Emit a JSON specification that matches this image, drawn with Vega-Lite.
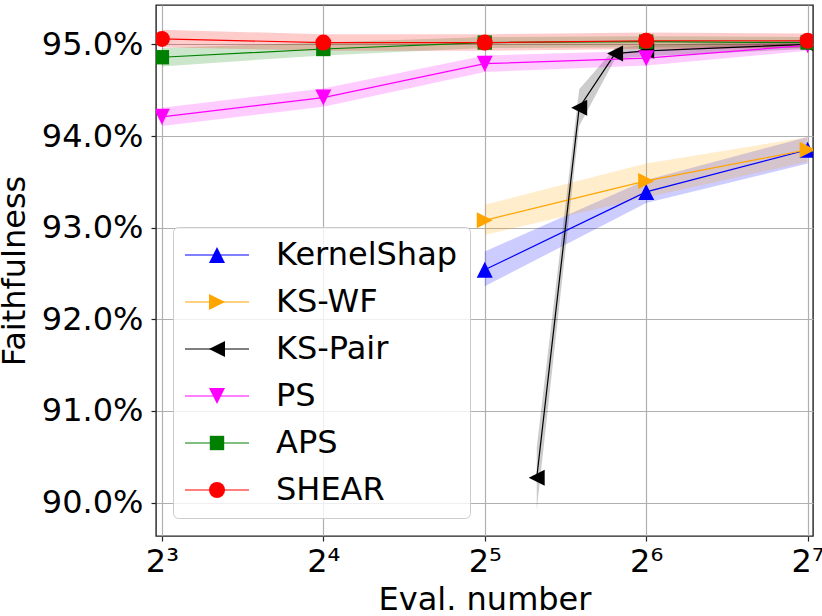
{
  "$schema": "https://vega.github.io/schema/vega-lite/v6.json",
  "width": 657,
  "height": 531,
  "autosize": {"type": "none"},
  "padding": {"left": 156, "top": 5, "right": 9, "bottom": 80},
  "data": {
    "values": [
      {"method": "KernelShap", "n": 32, "y": 92.54, "lo": 92.36, "hi": 92.74},
      {"method": "KernelShap", "n": 64, "y": 93.39, "lo": 93.27, "hi": 93.52},
      {"method": "KernelShap", "n": 128, "y": 93.85, "lo": 93.7, "hi": 93.99},
      {"method": "KS-WF", "n": 32, "y": 93.08, "lo": 92.92, "hi": 93.25},
      {"method": "KS-WF", "n": 64, "y": 93.51, "lo": 93.33, "hi": 93.7},
      {"method": "KS-WF", "n": 128, "y": 93.85, "lo": 93.72, "hi": 93.99},
      {"method": "KS-Pair", "n": 40, "y": 90.27, "lo": 89.92, "hi": 90.6},
      {"method": "KS-Pair", "n": 48, "y": 94.31, "lo": 94.11, "hi": 94.51},
      {"method": "KS-Pair", "n": 56, "y": 94.9, "lo": 94.84, "hi": 94.96},
      {"method": "KS-Pair", "n": 64, "y": 94.93, "lo": 94.87, "hi": 94.99},
      {"method": "KS-Pair", "n": 128, "y": 95.0, "lo": 94.95, "hi": 95.05},
      {"method": "PS", "n": 8, "y": 94.21, "lo": 94.11, "hi": 94.31},
      {"method": "PS", "n": 16, "y": 94.42, "lo": 94.32, "hi": 94.52},
      {"method": "PS", "n": 32, "y": 94.79, "lo": 94.7, "hi": 94.88},
      {"method": "PS", "n": 64, "y": 94.85, "lo": 94.77, "hi": 94.93},
      {"method": "PS", "n": 128, "y": 94.99, "lo": 94.93, "hi": 95.05},
      {"method": "APS", "n": 8, "y": 94.86, "lo": 94.76, "hi": 94.96},
      {"method": "APS", "n": 16, "y": 94.95, "lo": 94.88, "hi": 95.02},
      {"method": "APS", "n": 32, "y": 95.02, "lo": 94.96, "hi": 95.08},
      {"method": "APS", "n": 64, "y": 95.03, "lo": 94.97, "hi": 95.09},
      {"method": "APS", "n": 128, "y": 95.02, "lo": 94.96, "hi": 95.08},
      {"method": "SHEAR", "n": 8, "y": 95.06, "lo": 94.97, "hi": 95.16},
      {"method": "SHEAR", "n": 16, "y": 95.02, "lo": 94.93, "hi": 95.11},
      {"method": "SHEAR", "n": 32, "y": 95.02, "lo": 94.93, "hi": 95.11},
      {"method": "SHEAR", "n": 64, "y": 95.04, "lo": 94.95, "hi": 95.13},
      {"method": "SHEAR", "n": 128, "y": 95.04, "lo": 94.96, "hi": 95.12}
    ]
  },
  "encoding": {
    "x": {
      "field": "n",
      "type": "quantitative",
      "scale": {"type": "log", "base": 2, "domain": [7.8, 131], "nice": false},
      "axis": {
        "title": "Eval. number",
        "values": [8, 16, 32, 64, 128],
        "labelExpr": "datum.value == 8 ? '2³' : datum.value == 16 ? '2⁴' : datum.value == 32 ? '2⁵' : datum.value == 64 ? '2⁶' : '2⁷'",
        "labelPadding": 5,
        "titlePadding": 7
      }
    },
    "color": {
      "field": "method",
      "type": "nominal",
      "scale": {
        "domain": ["KernelShap", "KS-WF", "KS-Pair", "PS", "APS", "SHEAR"],
        "range": ["#0000ff", "#ffa500", "#000000", "#ff00ff", "#008000", "#ff0000"]
      },
      "legend": {
        "orient": "none",
        "legendX": 17,
        "legendY": 222,
        "title": null,
        "padding": 12,
        "symbolSize": 256,
        "symbolOffset": 16,
        "symbolOpacity": 1,
        "labelOffset": 43,
        "labelLimit": 400,
        "rowPadding": 15,
        "labelFont": "DejaVu Sans",
        "labelFontSize": 32,
        "labelColor": "#000000",
        "strokeColor": "#cccccc",
        "fillColor": "rgba(255,255,255,0.8)",
        "cornerRadius": 5,
        "zindex": 1
      }
    }
  },
  "layer": [
    {
      "mark": {"type": "area", "opacity": 0.2, "clip": true},
      "encoding": {
        "y": {
          "field": "lo",
          "type": "quantitative",
          "stack": null,
          "scale": {"domain": [89.635, 95.43], "nice": false, "zero": false},
          "axis": {
            "title": "Faithfulness",
            "values": [90, 91, 92, 93, 94, 95],
            "labelExpr": "format(datum.value, '.1f') + '%'",
            "labelPadding": 8,
            "titlePadding": 10
          }
        },
        "y2": {"field": "hi"}
      }
    },
    {
      "mark": {"type": "line", "strokeWidth": 1.2, "clip": true},
      "encoding": {
        "y": {
          "field": "y",
          "type": "quantitative",
          "scale": {"domain": [89.635, 95.43], "nice": false, "zero": false},
          "axis": {
            "title": "Faithfulness",
            "values": [90, 91, 92, 93, 94, 95],
            "labelExpr": "format(datum.value, '.1f') + '%'",
            "labelPadding": 8,
            "titlePadding": 10
          }
        },
        "stroke": {
          "field": "method",
          "type": "nominal",
          "sort": ["KernelShap", "KS-WF", "KS-Pair", "PS", "APS", "SHEAR"],
          "scale": {
            "range": ["#0000ff", "#ffa500", "#000000", "#ff00ff", "#008000", "#ff0000"]
          },
          "legend": {
            "orient": "none",
            "legendX": 17,
            "legendY": 222,
            "title": null,
            "padding": 12,
            "symbolSize": 256,
            "symbolType": "M-2,0H6",
            "symbolStrokeWidth": 1.2,
            "symbolOpacity": 1,
            "labelOffset": 43,
            "labelLimit": 400,
            "labelExpr": "' '",
            "rowPadding": 15,
            "labelFont": "DejaVu Sans",
            "labelFontSize": 32,
            "zindex": 2
          }
        }
      }
    },
    {
      "mark": {"type": "point", "filled": true, "opacity": 1, "size": 256, "clip": true},
      "encoding": {
        "y": {
          "field": "y",
          "type": "quantitative",
          "scale": {"domain": [89.635, 95.43], "nice": false, "zero": false},
          "axis": {
            "title": "Faithfulness",
            "values": [90, 91, 92, 93, 94, 95],
            "labelExpr": "format(datum.value, '.1f') + '%'",
            "labelPadding": 8,
            "titlePadding": 10
          }
        },
        "shape": {
          "field": "method",
          "type": "nominal",
          "legend": null,
          "scale": {
            "domain": ["KernelShap", "KS-WF", "KS-Pair", "PS", "APS", "SHEAR"],
            "range": ["M0,-1L1,1L-1,1Z", "M1,0L-1,-1L-1,1Z", "M-1,0L1,-1L1,1Z", "M0,1L1,-1L-1,-1Z", "M-0.9,-0.9H0.9V0.9H-0.9Z", "circle"]
          }
        }
      }
    }
  ],
  "config": {
    "font": "DejaVu Sans",
    "view": {"stroke": "#222222", "strokeWidth": 1.4},
    "axis": {
      "domain": false,
      "grid": true,
      "gridColor": "#b0b0b0",
      "gridWidth": 1.2,
      "gridOpacity": 1,
      "tickColor": "#222222",
      "tickSize": 5,
      "tickWidth": 1.2,
      "labelFont": "DejaVu Sans",
      "labelFontSize": 32,
      "labelColor": "#000000",
      "titleFont": "DejaVu Sans",
      "titleFontSize": 32,
      "titleFontWeight": "normal",
      "titleColor": "#000000",
      "labelOverlap": false,
      "labelFlush": false
    }
  }
}
